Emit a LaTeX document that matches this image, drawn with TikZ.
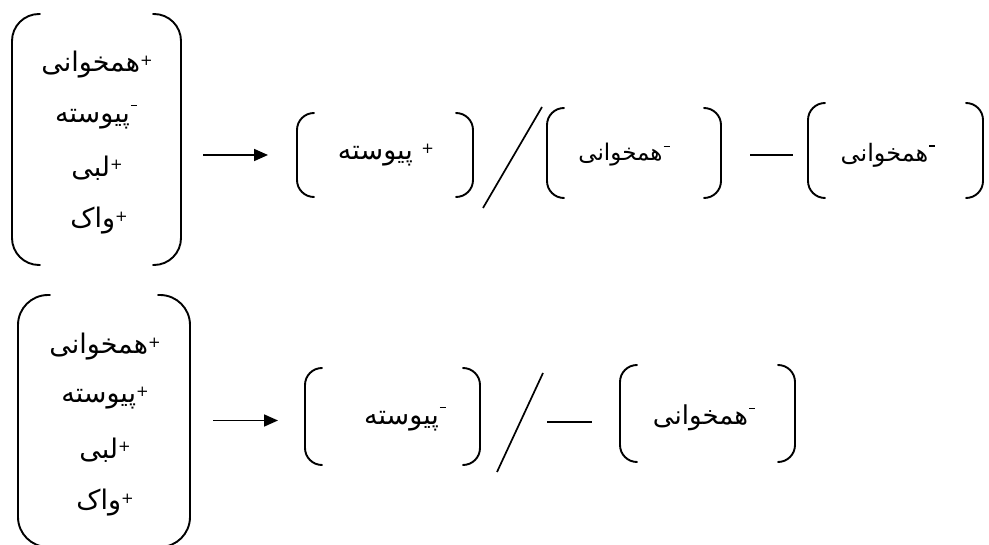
\documentclass[tikz,border=0pt]{standalone}
\usepackage{fontspec}
\usetikzlibrary{arrows.meta}
\TeXXeTstate=1
\newfontfamily\arabicfont[Script=Arabic]{DejaVu Sans}
% raised feature signs placed before (right of) each Persian word
\newcommand\plusmark{\raisebox{0.45ex}{\fontsize{15}{15}\selectfont +}}
\newcommand\minusmark{\raisebox{1.1ex}{\rule{6pt}{1.3pt}}\hspace{1pt}}
% #1 font size, #2 sign, #3 word
\newcommand\fa[3][27]{{\arabicfont\fontsize{#1}{#1}\selectfont\beginR #2#3\endR}}
% left and right bracket of a group node: #1 node, #2 horn length, #3 corner radius
\newcommand\drawbrackets[3]{%
  \draw[brk, rounded corners=#3] ([xshift=#2]#1.north west) -- (#1.north west) -- (#1.south west) -- ([xshift=#2]#1.south west);
  \draw[brk, rounded corners=#3] ([xshift=-#2]#1.north east) -- (#1.north east) -- (#1.south east) -- ([xshift=-#2]#1.south east);}
\tikzset{
  grp/.style={rectangle, draw=none, inner sep=0pt, outer sep=0pt},
  lbl/.style={inner sep=0pt, anchor=center},
  brk/.style={line width=1.9pt, line cap=round},
  conn/.style={line width=1.7pt},
  arr/.style={conn, -{Triangle[length=14pt,width=12pt]}}
}
\begin{document}
\begin{tikzpicture}[x=1pt, y=-1pt]
\useasboundingbox (0,0) rectangle (989,545);

% ---- upper row ----
\node[grp, minimum width=169pt, minimum height=251pt] (b1) at (96.5,139.5) {};
\node[lbl] (t1a) at (97,65)  {\fa{\plusmark}{همخوانی}};
\node[lbl] (t1b) at (96,117) {\fa{\minusmark}{پیوسته}};
\node[lbl] (t1c) at (97,168) {\fa{\plusmark}{لبی}};
\node[lbl] (t1d) at (99,221) {\fa{\plusmark}{واک}};
\drawbrackets{b1}{28pt}{27pt}

\node[grp, minimum width=176pt, minimum height=84pt] (b2) at (385,155) {};
\node[lbl] (t2) at (386,155) {\fa{\plusmark\ }{پیوسته}};
\drawbrackets{b2}{17pt}{17pt}

\node[grp, minimum width=174pt, minimum height=90pt] (b3) at (634,153) {};
\node[lbl] (t3) at (624,155) {\fa[23]{\minusmark}{همخوانی}};
\drawbrackets{b3}{17pt}{17pt}

\node[grp, minimum width=175pt, minimum height=95pt] (b4) at (895.5,150.5) {};
\node[lbl] (t4) at (888,155) {\fa[24]{\minusmark}{همخوانی}};
\drawbrackets{b4}{17pt}{17pt}

\draw[arr] ([xshift=22pt]b1.east |- b2.west) -- ([xshift=-29pt]b2.west);
\coordinate (s1a) at (483,208);
\coordinate (s1b) at (542,107);
\draw[conn] (s1a) -- (s1b);
\coordinate (d1a) at (750,155);
\coordinate (d1b) at (793,155);
\draw[conn] (d1a) -- (d1b);

% ---- lower row ----
\node[grp, minimum width=172pt, minimum height=252pt] (b5) at (104,421) {};
\node[lbl] (t5a) at (105,347) {\fa{\plusmark}{همخوانی}};
\node[lbl] (t5b) at (105,398) {\fa{\plusmark}{پیوسته}};
\node[lbl] (t5c) at (105,450) {\fa{\plusmark}{لبی}};
\node[lbl] (t5d) at (105,503) {\fa{\plusmark}{واک}};
\drawbrackets{b5}{32pt}{30pt}

\node[grp, minimum width=175pt, minimum height=97pt] (b6) at (392.5,416.5) {};
\node[lbl] (t6) at (405,419) {\fa{\minusmark}{پیوسته}};
\drawbrackets{b6}{17pt}{17pt}

\node[grp, minimum width=175pt, minimum height=97pt] (b7) at (707.5,413.5) {};
\node[lbl] (t7) at (704,418) {\fa[26]{\minusmark}{همخوانی}};
\drawbrackets{b7}{17pt}{17pt}

\draw[arr] ([xshift=23pt,yshift=-4pt]b5.east |- b6.west) -- ([xshift=-27pt,yshift=-4pt]b6.west);
\coordinate (s2a) at (497,472);
\coordinate (s2b) at (543,373);
\draw[conn] (s2a) -- (s2b);
\coordinate (d2a) at (547,422);
\coordinate (d2b) at (592,422);
\draw[conn] (d2a) -- (d2b);
\end{tikzpicture}
\end{document}
